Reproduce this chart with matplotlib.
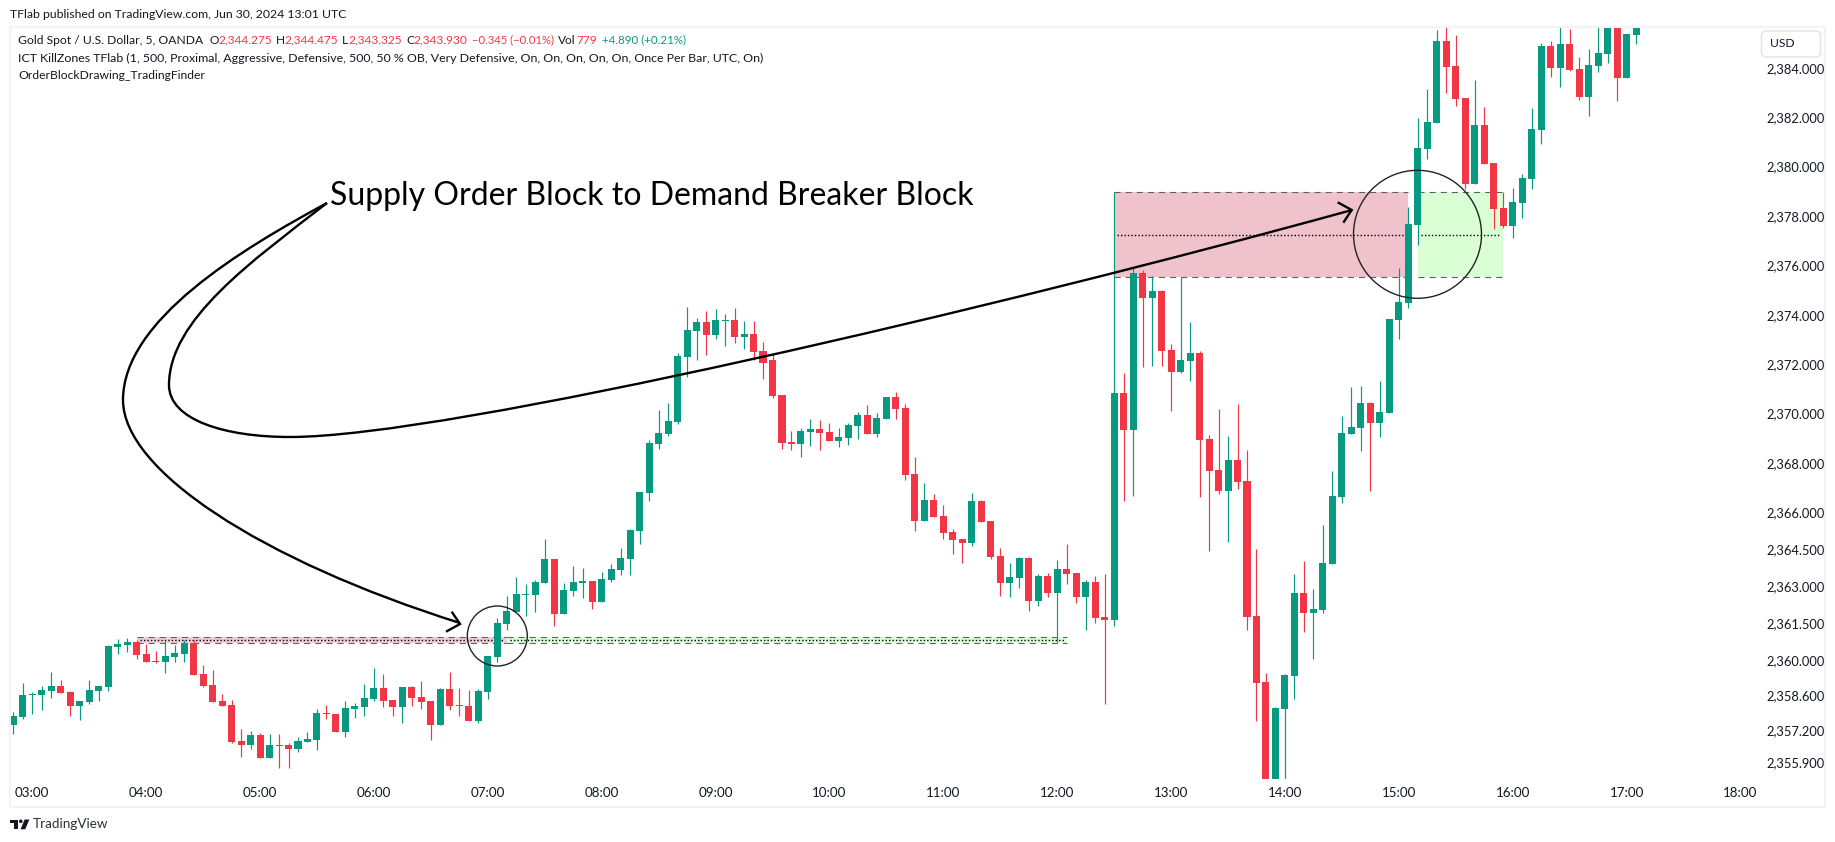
import matplotlib
matplotlib.use("Agg")
import matplotlib.pyplot as plt
from matplotlib.patches import Circle, FancyBboxPatch, PathPatch, Polygon, Rectangle
from matplotlib.path import Path
from matplotlib.transforms import Affine2D
import numpy as np

W, H = 1835, 842

# 5 minute candles, first one is 02:50
opens = [
    2357.43, 2357.75, 2358.64, 2358.64, 2358.81, 2359.01, 2358.77, 2358.20, 2358.36, 2358.81, 2358.97, 2360.59,
    2360.67, 2360.79, 2360.30, 2360.02, 2359.98, 2360.18, 2360.30, 2360.75, 2359.50, 2359.05, 2358.40, 2358.24,
    2356.78, 2356.62, 2357.03, 2356.09, 2356.62, 2356.62, 2356.46, 2356.74, 2356.82, 2357.92, 2357.88, 2357.15,
    2358.08, 2358.16, 2358.48, 2358.93, 2358.44, 2358.16, 2358.97, 2358.56, 2358.40, 2357.43, 2358.89, 2358.24,
    2358.20, 2357.59, 2358.77, 2360.18, 2361.52, 2362.00, 2362.69, 2362.69, 2363.18, 2364.15, 2361.92, 2362.85,
    2363.18, 2363.26, 2362.41, 2363.30, 2363.70, 2364.15, 2365.28, 2366.82, 2368.81, 2369.21, 2369.70, 2372.33,
    2373.38, 2373.74, 2373.22, 2373.78, 2373.83, 2373.14, 2373.26, 2372.57, 2372.21, 2370.79, 2368.89, 2368.81,
    2369.29, 2369.41, 2369.29, 2368.93, 2369.05, 2369.53, 2369.98, 2369.21, 2369.82, 2370.71, 2370.26, 2367.59,
    2365.69, 2366.54, 2365.89, 2365.24, 2364.96, 2364.80, 2366.50, 2365.69, 2364.27, 2363.18, 2363.38, 2364.19,
    2362.45, 2363.46, 2362.77, 2363.74, 2363.58, 2362.61, 2363.22, 2361.80, 2361.68, 2370.87, 2369.37, 2375.73,
    2374.72, 2375.00, 2372.61, 2371.72, 2372.17, 2372.49, 2369.01, 2367.75, 2366.90, 2368.16, 2367.31, 2361.84,
    2359.17, 2354.90, 2358.08, 2359.41, 2362.77, 2361.96, 2362.08, 2363.95, 2366.66, 2369.21, 2369.45, 2370.46,
    2369.65, 2370.06, 2373.82, 2374.51, 2377.67, 2380.75, 2381.80, 2385.12, 2384.11, 2382.81, 2379.33, 2381.72,
    2380.18, 2378.36, 2377.63, 2378.56, 2379.53, 2381.52, 2384.92, 2384.03, 2385.00, 2383.99, 2382.85, 2384.11,
    2384.59, 2385.65, 2383.62, 2385.36,
]
highs = [
    2357.96, 2359.13, 2358.77, 2359.01, 2359.58, 2359.25, 2358.81, 2358.40, 2359.25, 2359.01, 2360.67, 2360.91,
    2360.95, 2360.87, 2360.71, 2360.43, 2360.83, 2360.67, 2360.87, 2360.87, 2359.86, 2359.66, 2358.69, 2358.44,
    2357.27, 2357.19, 2357.11, 2357.07, 2357.07, 2356.70, 2356.94, 2357.15, 2358.08, 2358.24, 2357.88, 2358.40,
    2358.32, 2359.09, 2359.74, 2359.50, 2358.44, 2358.97, 2359.01, 2359.21, 2358.40, 2358.93, 2359.58, 2358.93,
    2358.85, 2358.89, 2360.22, 2361.76, 2362.65, 2363.42, 2363.14, 2363.30, 2364.96, 2364.15, 2363.18, 2363.87,
    2363.79, 2363.26, 2363.62, 2363.95, 2364.59, 2365.36, 2366.86, 2368.97, 2370.18, 2370.47, 2372.49, 2374.35,
    2373.91, 2374.19, 2374.27, 2374.07, 2374.31, 2373.78, 2373.78, 2372.93, 2372.49, 2370.79, 2369.33, 2369.45,
    2369.82, 2369.78, 2369.66, 2369.45, 2369.66, 2370.10, 2370.38, 2370.06, 2370.71, 2370.91, 2370.42, 2368.28,
    2367.23, 2366.78, 2366.34, 2365.36, 2364.96, 2366.82, 2366.54, 2365.69, 2364.59, 2363.99, 2364.23, 2364.23,
    2363.54, 2363.58, 2364.11, 2364.76, 2363.58, 2363.30, 2363.46, 2363.54, 2379.00, 2371.68, 2375.93, 2375.85,
    2375.61, 2375.04, 2372.86, 2375.57, 2373.75, 2372.57, 2369.17, 2370.22, 2369.13, 2370.42, 2368.56, 2364.55,
    2359.53, 2358.16, 2359.49, 2363.54, 2364.07, 2362.93, 2365.53, 2367.71, 2369.94, 2371.11, 2371.15, 2370.51,
    2371.35, 2373.87, 2375.93, 2378.40, 2382.00, 2383.18, 2385.57, 2386.00, 2385.36, 2382.81, 2383.54, 2382.45,
    2380.18, 2379.01, 2379.17, 2379.74, 2382.41, 2385.04, 2385.12, 2386.00, 2385.61, 2384.47, 2384.80, 2386.00,
    2386.00, 2386.00, 2385.40, 2386.00,
]
lows = [
    2357.07, 2357.67, 2357.88, 2358.04, 2358.52, 2358.73, 2357.79, 2357.63, 2358.28, 2358.40, 2358.81, 2360.30,
    2360.39, 2360.10, 2359.98, 2359.94, 2359.54, 2359.98, 2359.98, 2359.45, 2358.97, 2358.36, 2358.20, 2356.70,
    2356.13, 2356.46, 2356.09, 2356.09, 2355.69, 2355.69, 2356.34, 2356.74, 2356.42, 2357.67, 2357.15, 2356.94,
    2357.71, 2357.79, 2358.40, 2358.16, 2357.79, 2357.51, 2358.20, 2358.08, 2356.82, 2357.43, 2358.04, 2357.79,
    2357.59, 2357.51, 2358.48, 2359.98, 2361.28, 2362.00, 2361.84, 2362.00, 2363.18, 2361.44, 2361.92, 2362.65,
    2362.57, 2362.13, 2362.41, 2363.22, 2363.50, 2363.50, 2364.76, 2366.50, 2368.60, 2369.13, 2369.62, 2371.52,
    2372.21, 2372.41, 2373.06, 2372.77, 2372.89, 2372.65, 2372.21, 2371.44, 2370.67, 2368.60, 2368.56, 2368.28,
    2368.72, 2368.56, 2368.93, 2368.68, 2368.76, 2369.01, 2369.21, 2369.09, 2369.82, 2369.82, 2367.35, 2365.28,
    2365.69, 2365.85, 2364.96, 2364.35, 2363.99, 2364.68, 2365.65, 2364.15, 2362.65, 2362.61, 2362.98, 2362.04,
    2362.25, 2362.61, 2360.79, 2363.14, 2362.37, 2361.28, 2361.56, 2358.28, 2361.44, 2366.50, 2366.70, 2371.92,
    2371.96, 2371.96, 2370.14, 2371.68, 2371.36, 2366.66, 2364.47, 2366.78, 2364.84, 2366.98, 2361.28, 2357.59,
    2354.90, 2354.90, 2354.90, 2358.48, 2361.19, 2360.10, 2361.96, 2363.95, 2366.42, 2369.21, 2368.52, 2366.91,
    2369.09, 2370.06, 2373.06, 2374.31, 2376.86, 2380.34, 2381.80, 2383.01, 2382.49, 2379.13, 2379.33, 2380.14,
    2377.51, 2377.55, 2377.14, 2377.95, 2379.13, 2380.95, 2383.66, 2383.26, 2383.91, 2382.73, 2382.08, 2383.87,
    2384.23, 2382.69, 2383.62, 2385.00,
]
closes = [
    2357.79, 2358.64, 2358.69, 2358.85, 2359.01, 2358.73, 2358.20, 2358.40, 2358.85, 2359.01, 2360.63, 2360.71,
    2360.79, 2360.26, 2359.98, 2359.98, 2360.22, 2360.35, 2360.75, 2359.45, 2359.01, 2358.36, 2358.20, 2356.74,
    2356.62, 2357.03, 2356.09, 2356.62, 2356.58, 2356.46, 2356.78, 2356.86, 2357.92, 2357.88, 2357.15, 2358.12,
    2358.20, 2358.52, 2358.93, 2358.40, 2358.16, 2358.97, 2358.52, 2358.36, 2357.43, 2358.89, 2358.20, 2358.20,
    2357.59, 2358.81, 2360.22, 2361.56, 2362.04, 2362.73, 2362.73, 2363.22, 2364.15, 2361.92, 2362.89, 2363.22,
    2363.26, 2362.41, 2363.34, 2363.74, 2364.19, 2365.32, 2366.86, 2368.85, 2369.25, 2369.74, 2372.37, 2373.42,
    2373.74, 2373.22, 2373.83, 2373.83, 2373.14, 2373.26, 2372.53, 2372.08, 2370.75, 2368.85, 2368.81, 2369.33,
    2369.41, 2369.25, 2368.93, 2369.09, 2369.57, 2369.98, 2369.21, 2369.86, 2370.71, 2370.22, 2367.55, 2365.69,
    2366.54, 2365.85, 2365.20, 2364.92, 2364.80, 2366.50, 2365.65, 2364.23, 2363.18, 2363.42, 2364.19, 2362.45,
    2363.46, 2362.77, 2363.74, 2363.54, 2362.61, 2363.22, 2361.76, 2361.68, 2370.87, 2369.37, 2375.73, 2374.72,
    2375.00, 2372.57, 2371.72, 2372.21, 2372.49, 2368.97, 2367.71, 2366.90, 2368.16, 2367.27, 2361.80, 2359.13,
    2354.90, 2358.12, 2359.45, 2362.77, 2361.96, 2362.13, 2363.99, 2366.70, 2369.25, 2369.49, 2370.46, 2369.65,
    2370.10, 2373.87, 2374.55, 2377.71, 2380.79, 2381.84, 2385.12, 2384.07, 2382.77, 2379.33, 2381.72, 2380.14,
    2378.32, 2377.63, 2378.60, 2379.57, 2381.56, 2384.92, 2384.03, 2385.00, 2383.95, 2382.85, 2384.15, 2384.63,
    2385.65, 2383.62, 2385.40, 2385.90,
]

price_ticks = [2384, 2382, 2380, 2378, 2376, 2374, 2372, 2370, 2368, 2366,
               2364.5, 2363, 2361.5, 2360, 2358.6, 2357.2, 2355.9]
hour_labels = ["03:00", "04:00", "05:00", "06:00", "07:00", "08:00", "09:00", "10:00",
               "11:00", "12:00", "13:00", "14:00", "15:00", "16:00", "17:00", "18:00"]

# order block zones: first bar, last bar, bottom, top
big_supply = (116, 147, 2375.55, 2379.0)
big_demand = (148, 157, 2375.55, 2379.0)
thin_supply = (13, 52, 2360.76, 2361.0)
thin_demand = (52, 111, 2360.76, 2361.0)

GREEN = "#089981"
RED = "#F23645"
TEXT = "#131722"
FONT = "Lato"

fig = plt.figure(figsize=(W / 100, H / 100), dpi=100, facecolor="white")

# chart area in pixels
left, right, top, bottom = 11, 1758, 28, 779
ax = fig.add_axes([left / W, 1 - bottom / H, (right - left) / W, (bottom - top) / H])
ax.patch.set_alpha(0)
for s in ax.spines.values():
    s.set_visible(False)
ax.set_xlim((left - 13.3) / 9.49, (right - 13.3) / 9.49)
ax.set_ylim(2370 - (bottom - 414.5) / 24.7, 2370 + (414.5 - top) / 24.7)

# pixel coords with y going down, used for the drawings on top of the chart
px = Affine2D().scale(1, -1).translate(0, H)


def draw_zone(zone, color):
    x0, x1, lo, hi = zone
    ax.fill_between([x0, x1], lo, hi, color=color, lw=0, zorder=1)


draw_zone(big_supply, "#F0C2CC")
draw_zone(big_demand, "#DAFFD4")
draw_zone(thin_supply, "#F5CBD5")
draw_zone(thin_demand, "#DAFFD4")

# dashed edges and dotted middle line of the zones
dash = (0, (5.5, 4.5))
for zone in [big_supply, big_demand, thin_supply, thin_demand]:
    x0, x1, lo, hi = zone
    ax.hlines([lo, hi], x0, x1, color="#5D606B", lw=0.8, linestyles=[dash], zorder=2)
    ax.hlines((lo + hi) / 2, x0 + 0.3, x1 - 0.3, color="#000000", lw=1, linestyles=[(0, (1, 1.5))], zorder=2)

# candles
x = np.arange(len(opens))
o = np.array(opens)
c = np.array(closes)
colors = [GREEN if b >= a else RED for a, b in zip(opens, closes)]
ax.vlines(x, lows, highs, color=colors, lw=0.85, zorder=3)
ax.bar(x, np.abs(c - o), bottom=np.minimum(o, c), width=0.74, color=colors, lw=0, zorder=4)

ax.yaxis.tick_right()
ax.set_yticks(price_ticks)
ax.set_yticklabels([f"{p:,.3f}" for p in price_ticks], fontsize=9.3, color=TEXT, fontfamily=FONT)
ax.tick_params(axis="y", length=0, pad=5.8)
# labels sit a touch higher than the true price in the original
for t in ax.get_yticklabels():
    t.set_transform(t.get_transform() + Affine2D().translate(0, 1))
ax.set_xticks(2 + 12 * np.arange(len(hour_labels)))
ax.set_xticklabels(hour_labels, fontsize=9.6, color=TEXT, fontfamily=FONT)
ax.tick_params(axis="x", length=0, pad=6)

# outer frame
fig.add_artist(Rectangle((10, 27), 1815, 780, transform=px, fill=False, ec="#F0F3FA", lw=1.5))

# USD box
fig.add_artist(FancyBboxPatch((1763, 32.5), 56, 23, boxstyle="round,pad=1.5,rounding_size=5",
                              transform=px, fc="white", ec="#E0E3EB", lw=1))


def label(x_px, y_px, s, color=TEXT, size=8.6, **kw):
    fig.text(x_px / W, 1 - y_px / H, s, color=color, fontsize=size, fontfamily=FONT, va="center", **kw)


label(1770, 43.5, "USD", size=8.7)

# header lines
label(10, 14, "TFlab published on TradingView.com, Jun 30, 2024 13:01 UTC", size=8.8)
label(18, 40, "Gold Spot / U.S. Dollar, 5, OANDA", size=8.7)
label(209, 40, "O")
label(218, 40, "2,344.275", RED)
label(276, 40, "H")
label(284, 40, "2,344.475", RED)
label(342, 40, "L")
label(348, 40, "2,343.325", RED)
label(406, 40, "C")
label(413, 40, "2,343.930", RED)
label(472, 40, "\u22120.345 (\u22120.01%)", RED, size=8.1)
label(576, 40, "Vol", ha="right")
label(576.5, 40, "779", RED)
label(602, 40, "+4.890 (+0.21%)", GREEN, size=8.3)
label(18, 58, "ICT KillZones TFlab (1, 500, Proximal, Aggressive, Defensive, 500, 50 % OB, "
              "Very Defensive, On, On, On, On, On, Once Per Bar, UTC, On)", size=8.9)
label(18, 75.5, "OrderBlockDrawing_TradingFinder", size=8.7)

label(330, 196, "Supply Order Block to Demand Breaker Block", color="#000000", size=23)

# the two circles
fig.add_artist(Circle((497.3, 636), 30, transform=px, fill=False, ec="#222222", lw=1))
fig.add_artist(Circle((1417.5, 234.3), 64, transform=px, fill=False, ec="#222222", lw=1))

# curved arrows coming out of the label
outer = Path([(327, 203), (242, 249), (123, 320), (123, 400), (123, 470), (260, 560), (460, 623)],
             [Path.MOVETO] + [Path.CURVE4] * 6)
inner = Path([(327, 203), (252, 261), (169, 320), (169, 385), (169, 420), (225, 437), (290, 437),
              (450, 437), (1000, 307), (1352, 210)],
             [Path.MOVETO] + [Path.CURVE4] * 9)
for pth in [outer, inner]:
    fig.add_artist(PathPatch(pth, transform=px, fill=False, ec="#000000", lw=1.7))
for barbs in [[(451.7, 611.7), (460, 624), (446, 631.7)], [(1337.7, 202.3), (1351.7, 210), (1343.3, 222.7)]]:
    fig.add_artist(Polygon(barbs, closed=False, transform=px, fill=False, ec="#000000", lw=1.7))

# TradingView logo
logo_color = "#131722"
fig.add_artist(Polygon([(10, 819.5), (18.2, 819.5), (18.2, 829.3), (14, 829.3), (14, 823.2), (10, 823.2)],
                       transform=px, fc=logo_color, ec="none"))
fig.add_artist(Circle((20.8, 821.3), 1.8, transform=px, fc=logo_color, ec="none"))
fig.add_artist(Polygon([(24.6, 819.5), (29.4, 819.5), (25.2, 829.3), (20.6, 829.3)],
                       transform=px, fc=logo_color, ec="none"))
label(33, 824, "TradingView", color="#2A2E39", size=9.7)

fig.savefig("out.png", dpi=100)
plt.close(fig)
